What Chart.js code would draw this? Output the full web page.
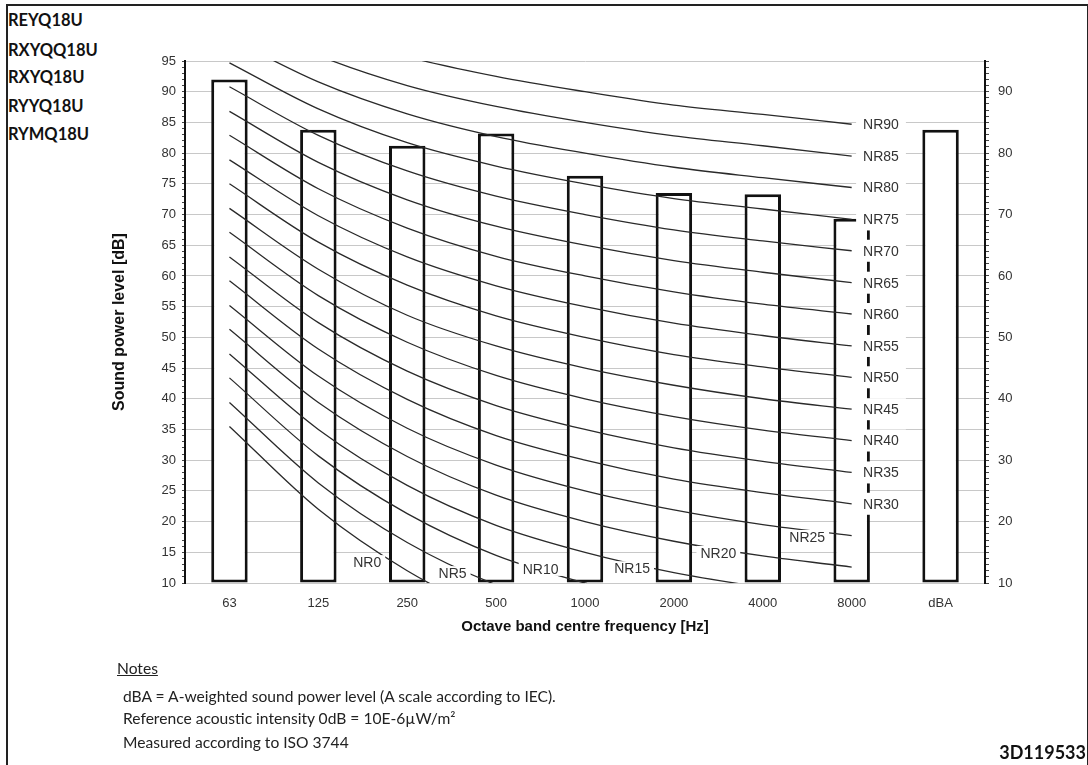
<!DOCTYPE html>
<html><head><meta charset="utf-8">
<script src="https://cdn.jsdelivr.net/npm/chart.js@4.4.1/dist/chart.umd.min.js"></script>
<style>
html,body{margin:0;padding:0;background:#fff;}
body{width:1088px;height:765px;position:relative;overflow:hidden;font-family:Lato,"Open Sans",sans-serif;}
#c{position:absolute;left:0;top:0;}
.frame{position:absolute;left:6px;top:4px;width:1079px;height:800px;border-top:2px solid #222;border-left:2px solid #222;border-right:2px solid #222;}
.model{position:absolute;left:8px;font-weight:bold;font-size:16.5px;line-height:20px;color:#111;}
.note{position:absolute;font-size:15.6px;line-height:18px;color:#222;white-space:nowrap;}
.code{position:absolute;right:2px;top:742px;font-weight:bold;font-size:18px;line-height:20px;color:#111;}
</style>
</head>
<body>
<div class="frame"></div>
<div class="model" style="top:10px">REYQ18U</div>
<div class="model" style="top:40px">RXYQQ18U</div>
<div class="model" style="top:67px">RXYQ18U</div>
<div class="model" style="top:96px">RYYQ18U</div>
<div class="model" style="top:124px">RYMQ18U</div>
<canvas id="c" width="1088" height="765"></canvas>
<div class="note" style="left:117px;top:659px;text-decoration:underline;">Notes</div>
<div class="note" style="left:123px;top:687px;">dBA = A-weighted sound power level (A scale according to IEC).</div>
<div class="note" style="left:123px;top:709px;">Reference acoustic intensity 0dB = 10E-6µW/m²</div>
<div class="note" style="left:123px;top:733px;">Measured according to ISO 3744</div>
<div class="code">3D119533</div>
<script>
// ---- data ----
const categories = ['63','125','250','500','1000','2000','4000','8000','dBA'];
const soundPower = [92, 83.8, 81.2, 83.2, 76.3, 73.5, 73.3, 69.3, 83.8];
const leftTicks = [10,15,20,25,30,35,40,45,50,55,60,65,70,75,80,85,90,95];
const rightTicks = [10,20,30,40,50,60,70,80,90];
const nrLevels = [0,5,10,15,20,25,30,35,40,45,50,55,60,65,70,75,80,85,90];
// NR curves at 63..8000 Hz
const nr0  = [35.5, 22.0, 12.0,  4.8,  0.0, -3.5, -6.1, -8.0];
const nr5  = [39.4, 26.3, 16.6,  9.7,  5.0,  1.6, -1.0, -2.8];
const nr10 = [43.4, 30.7, 21.3, 14.5, 10.0,  6.6,  4.2,  2.3];
const nr15 = [47.3, 35.0, 25.9, 19.4, 15.0, 11.7,  9.3,  7.4];
const nr20 = [51.3, 39.4, 30.6, 24.3, 20.0, 16.8, 14.4, 12.6];
const nr25 = [55.2, 43.7, 35.2, 29.2, 25.0, 21.9, 19.5, 17.7];
const nr30 = [59.2, 48.1, 39.9, 34.0, 30.0, 26.9, 24.7, 22.9];
const nr35 = [63.1, 52.4, 44.5, 38.9, 35.0, 32.0, 29.8, 28.0];
const nr40 = [67.1, 56.8, 49.2, 43.8, 40.0, 37.1, 34.9, 33.2];
const nr45 = [71.0, 61.1, 53.6, 48.6, 45.0, 42.2, 40.0, 38.3];
const nr50 = [75.0, 65.5, 58.5, 53.5, 50.0, 47.2, 45.2, 43.5];
const nr55 = [78.9, 69.8, 63.1, 58.4, 55.0, 52.3, 50.3, 48.6];
const nr60 = [82.9, 74.2, 67.8, 63.2, 60.0, 57.4, 55.4, 53.8];
const nr65 = [86.8, 78.5, 72.4, 68.1, 65.0, 62.5, 60.6, 58.9];
const nr70 = [90.8, 82.9, 77.1, 73.0, 70.0, 67.5, 65.7, 64.1];
const nr75 = [94.7, 87.2, 81.7, 77.9, 75.0, 72.6, 70.9, 69.2];
const nr80 = [98.7, 91.6, 86.4, 82.7, 80.0, 77.7, 76.0, 74.4];
const nr85 = [102.6, 95.9, 91.0, 87.6, 85.0, 82.8, 81.2, 79.5];
const nr90 = [106.6, 100.3, 95.7, 92.5, 90.0, 87.8, 86.3, 84.7];
const nrCurves = [nr0,nr5,nr10,nr15,nr20,nr25,nr30,nr35,nr40,nr45,nr50,nr55,nr60,nr65,nr70,nr75,nr80,nr85,nr90];
// labels of the low NR curves, placed along the curves near the bottom (category index, dB)
const lowNrNames = ['NR0','NR5','NR10','NR15','NR20','NR25'];
const lowNrAt    = [1.55, 2.51, 3.50, 4.53, 5.50, 6.50];
const lowNrDb    = [13.4, 11.6, 12.3, 12.4, 14.9, 17.5];
const yMin = 10, yMax = 95;

// ---- layout / style config ----
const rightLabelAt = 7.33;
const FONT = '"Liberation Sans", Arial, sans-serif';

const nrLabelPlugin = {
  id: 'nrLabels',
  afterDatasetsDraw(chart) {
    const {ctx} = chart;
    const x = chart.scales.x, y = chart.scales.y;
    ctx.save();
    ctx.font = '14px ' + FONT;
    ctx.textAlign = 'center';
    ctx.textBaseline = 'middle';
    const draw = (text, px, py, h, padX) => {
      const w = ctx.measureText(text).width + 2 * padX;
      ctx.fillStyle = '#fff';
      ctx.fillRect(px - w / 2, py - h / 2, w, h);
      ctx.fillStyle = '#333';
      ctx.fillText(text, px, py + 1);
    };
    nrLevels.forEach((lv, i) => {
      if (lv >= 30) {
        const curve = nrCurves[i];
        draw('NR' + lv, x.getPixelForValue(rightLabelAt), y.getPixelForValue(curve[curve.length - 1]), 22, 7);
      }
    });
    lowNrNames.forEach((t, i) => {
      draw(t, x.getPixelForValue(lowNrAt[i]), y.getPixelForValue(lowNrDb[i]), 14, 4);
    });
    ctx.restore();
  }
};

const allInts = (s) => { const t = []; for (let v = yMin; v <= yMax; v++) t.push({value: v}); s.ticks = t; };

const datasets = [{
  type: 'bar',
  data: soundPower,
  base: yMin,
  backgroundColor: '#ffffff',
  borderColor: '#111',
  borderWidth: 3,
  borderSkipped: false,
  categoryPercentage: 1,
  barPercentage: 0.41,
  order: 2,
  yAxisID: 'y'
}];
nrCurves.forEach((c) => datasets.push({
  type: 'line',
  data: c,
  borderColor: '#2a2a2a',
  borderWidth: 1.3,
  pointRadius: 0,
  fill: false,
  cubicInterpolationMode: 'monotone',
  order: 1,
  yAxisID: 'y'
}));

new Chart(document.getElementById('c'), {
  data: { labels: categories, datasets },
  options: {
    responsive: false,
    animation: false,
    events: [],
    layout: { padding: { left: 100, right: 50, top: 61, bottom: 122 } },
    plugins: { legend: { display: false }, tooltip: { enabled: false } },
    scales: {
      x: {
        type: 'category',
        offset: true,
        grid: { display: false, drawTicks: false },
        border: { display: false },
        ticks: { font: { size: 13, family: FONT }, color: '#333', padding: 13, maxRotation: 0 },
        title: { display: true, text: 'Octave band centre frequency [Hz]', font: { size: 15, weight: 'bold', family: FONT }, color: '#111', padding: { top: 0, bottom: 7 } },
        afterFit: (s) => { s.height = 60; }
      },
      y: {
        position: 'left',
        min: yMin, max: yMax,
        afterBuildTicks: allInts,
        grid: {
          color: (c) => (c.tick && leftTicks.includes(c.tick.value)) ? '#c8c8c8' : 'rgba(0,0,0,0)',
          tickColor: '#444',
          tickLength: 3,
          lineWidth: 1
        },
        border: { display: true, color: '#111', width: 2 },
        ticks: {
          autoSkip: false,
          font: { size: 13, family: FONT }, color: '#333', padding: 6,
          callback: (v) => leftTicks.includes(v) ? String(v) : ''
        },
        title: { display: true, text: 'Sound power level [dB]', font: { size: 16, weight: 'bold', family: FONT }, color: '#111', padding: { top: 10, bottom: 0 } },
        afterFit: (s) => { s.width = 85; }
      },
      y2: {
        position: 'right',
        min: yMin, max: yMax,
        afterBuildTicks: allInts,
        grid: { drawOnChartArea: false, tickColor: '#444', tickLength: 4, lineWidth: 1 },
        border: { display: true, color: '#111', width: 2 },
        ticks: {
          autoSkip: false,
          font: { size: 13, family: FONT }, color: '#333', padding: 9,
          callback: (v) => rightTicks.includes(v) ? String(v) : ''
        },
        afterFit: (s) => { s.width = 53; }
      }
    }
  },
  plugins: [nrLabelPlugin]
});
</script>
</body></html>
